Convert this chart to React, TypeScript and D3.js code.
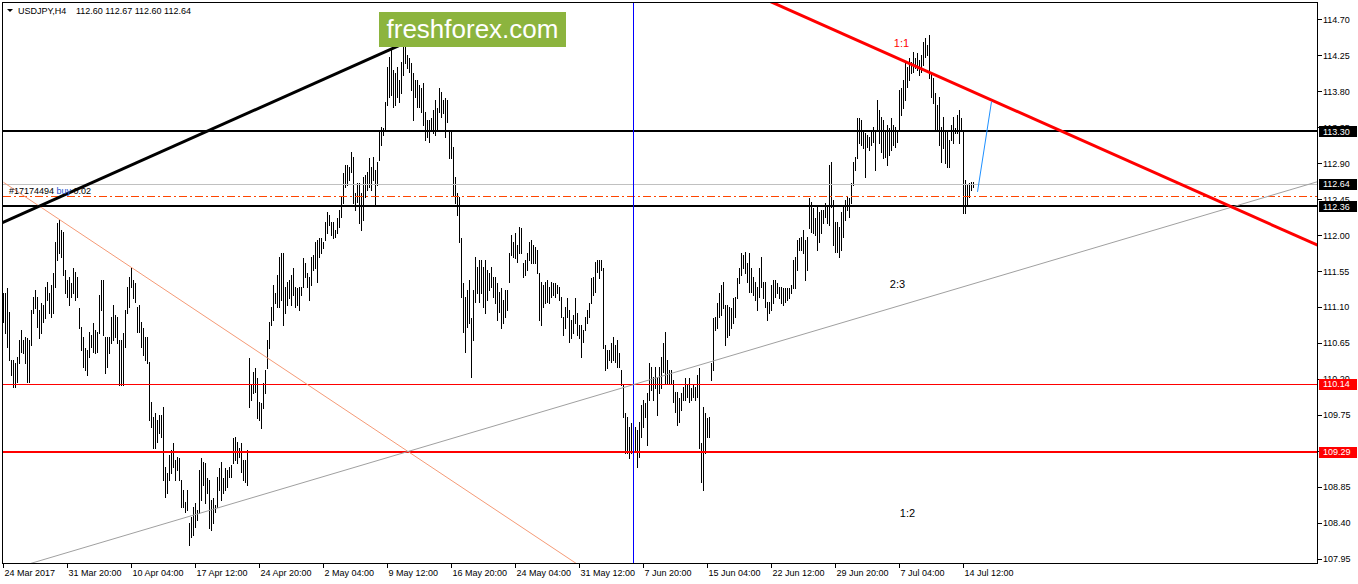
import * as React from 'react';
import * as d3 from 'd3';

const width = 1358;
const height = 584;

// USDJPY H4, bar highs and lows (one entry per bar)
const highs = [
  111.28, 111.28, 111.34, 111.04, 110.44, 110.44, 110.40, 110.47, 110.69, 110.81,
  110.69, 110.72, 110.71, 110.69, 111.06, 111.22, 111.31, 111.22, 111.06, 111.15,
  111.12, 111.35, 111.41, 111.28, 111.38, 111.53, 111.91, 112.15, 112.19, 112.06,
  112.04, 111.56, 111.44, 111.47, 111.40, 111.59, 111.54, 111.47, 111.09, 110.85,
  110.72, 110.59, 110.56, 110.79, 110.75, 110.90, 110.81, 110.79, 111.25, 111.44,
  111.44, 110.72, 110.72, 110.72, 110.97, 111.12, 111.00, 110.97, 110.69, 110.69,
  110.77, 111.06, 111.35, 111.47, 111.59, 111.44, 111.40, 111.10, 111.12, 110.91,
  110.84, 110.72, 110.72, 110.41, 109.91, 109.72, 109.77, 109.69, 109.75, 109.75,
  109.85, 109.10, 109.02, 109.25, 109.31, 109.40, 109.19, 109.22, 109.21, 108.94,
  108.81, 108.66, 108.81, 108.40, 108.47, 108.60, 108.65, 108.56, 109.06, 109.21,
  109.16, 109.15, 108.96, 108.94, 108.68, 108.71, 108.62, 108.97, 109.09, 109.16,
  108.96, 109.09, 109.06, 109.10, 109.12, 109.46, 109.47, 109.41, 109.33, 109.40,
  109.19, 109.19, 109.31, 110.46, 110.12, 110.29, 110.34, 110.21, 109.91, 109.90,
  110.15, 110.31, 110.69, 110.91, 111.10, 111.38, 111.28, 111.50, 111.73, 111.78,
  111.78, 111.35, 111.41, 111.44, 111.50, 111.59, 111.35, 111.34, 111.35, 111.35,
  111.71, 111.65, 111.53, 111.47, 111.73, 111.75, 111.91, 111.94, 111.96, 111.96,
  111.91, 112.16, 112.29, 112.25, 112.16, 112.16, 112.06, 112.21, 112.31, 112.48,
  112.78, 112.88, 112.88, 112.85, 113.04, 112.98, 112.53, 112.65, 112.65, 112.53,
  112.73, 112.75, 112.79, 112.96, 112.85, 112.98, 112.81, 112.91, 113.31, 113.35,
  113.34, 113.67, 114.10, 114.23, 114.34, 114.07, 114.03, 114.10, 113.94, 114.17,
  114.35, 114.38, 114.25, 114.22, 114.15, 114.03, 113.94, 113.94, 113.88, 113.84,
  113.90, 113.54, 113.44, 113.44, 113.46, 113.56, 113.69, 113.59, 113.84, 113.79,
  113.69, 113.72, 113.69, 113.31, 113.31, 113.10, 112.73, 112.53, 112.48, 111.96,
  111.40, 111.22, 111.31, 111.44, 110.96, 111.31, 111.73, 111.60, 111.69, 111.69,
  111.60, 111.69, 111.56, 111.53, 111.60, 111.47, 111.47, 111.40, 111.29, 111.34,
  111.19, 111.31, 111.31, 111.77, 112.00, 111.91, 112.03, 111.88, 112.10, 112.09,
  111.65, 111.69, 111.77, 111.91, 111.94, 111.88, 111.85, 111.81, 111.53, 111.41,
  111.38, 111.41, 111.44, 111.35, 111.41, 111.40, 111.40, 111.38, 111.35, 111.22,
  110.97, 111.10, 111.21, 111.06, 110.94, 111.00, 111.21, 111.02, 110.87, 110.87,
  110.81, 110.97, 111.06, 111.15, 111.46, 111.47, 111.66, 111.69, 111.69, 111.69,
  111.59, 110.62, 110.56, 110.56, 110.65, 110.72, 110.62, 110.69, 110.52, 110.31,
  110.12, 109.77, 109.72, 109.60, 109.65, 109.54, 109.60, 109.56, 109.66, 109.87,
  109.94, 109.90, 110.02, 110.40, 110.35, 110.22, 110.35, 110.22, 110.35, 110.47,
  110.65, 110.79, 110.44, 110.31, 110.31, 110.19, 110.04, 110.04, 109.96, 110.02,
  110.10, 110.21, 110.12, 110.21, 110.09, 110.12, 110.10, 110.25, 110.34, 109.40,
  109.85, 109.77, 109.71, 109.72, 110.40, 110.96, 110.97, 111.15, 111.28, 111.38,
  111.41, 111.12, 111.12, 111.10, 111.09, 111.21, 111.22, 111.46, 111.59, 111.77,
  111.75, 111.79, 111.65, 111.77, 111.59, 111.47, 111.41, 111.35, 111.59, 111.73,
  111.41, 111.41, 111.16, 111.16, 111.38, 111.44, 111.44, 111.40, 111.35, 111.35,
  111.34, 111.34, 111.34, 111.34, 111.38, 111.69, 111.73, 111.94, 111.96, 111.97,
  112.06, 111.94, 111.97, 112.46, 112.41, 112.34, 112.21, 112.35, 112.29, 112.31,
  112.31, 112.40, 112.38, 112.88, 112.91, 112.44, 112.16, 112.16, 112.10, 112.29,
  112.35, 112.44, 112.48, 112.46, 112.65, 112.91, 112.98, 113.46, 113.46, 113.44,
  113.29, 113.28, 113.25, 113.23, 113.29, 113.35, 113.29, 113.69, 113.56, 113.48,
  113.44, 113.29, 113.38, 113.34, 113.46, 113.38, 113.35, 113.31, 113.82, 113.84,
  113.94, 114.17, 114.10, 114.22, 114.17, 114.29, 114.22, 114.28, 114.19, 114.25,
  114.41, 114.47, 114.38, 114.50, 114.04, 113.97, 113.78, 113.63, 113.73, 113.35,
  113.48, 113.31, 113.31, 113.19, 113.38, 113.48, 113.34, 113.50, 113.56, 113.46,
  113.31, 112.69, 112.63, 112.65, 112.66, 112.67,
];

const lows = [
  110.91, 110.77, 110.60, 110.44, 110.25, 110.10, 110.10, 110.16, 110.40, 110.54,
  110.52, 110.40, 110.16, 110.16, 110.62, 111.02, 111.09, 110.85, 110.71, 110.77,
  110.91, 110.96, 111.19, 111.02, 110.97, 111.02, 111.35, 111.69, 111.77, 111.73,
  111.50, 111.28, 111.22, 111.12, 111.22, 111.28, 111.19, 111.22, 110.84, 110.56,
  110.35, 110.31, 110.25, 110.47, 110.60, 110.54, 110.52, 110.54, 110.77, 111.06,
  110.75, 110.27, 110.35, 110.52, 110.65, 110.69, 110.72, 110.65, 110.12, 110.12,
  110.12, 110.60, 111.02, 111.10, 111.35, 111.21, 111.16, 110.79, 110.79, 110.60,
  110.50, 110.44, 110.40, 109.69, 109.60, 109.34, 109.34, 109.41, 109.52, 109.47,
  108.94, 108.72, 108.77, 108.94, 109.02, 109.10, 108.94, 109.06, 108.94, 108.60,
  108.60, 108.53, 108.56, 108.12, 108.22, 108.25, 108.35, 108.43, 108.52, 108.68,
  108.87, 108.65, 108.77, 108.33, 108.31, 108.40, 108.53, 108.60, 108.81, 108.68,
  108.77, 108.81, 108.85, 108.97, 108.97, 109.15, 109.19, 109.15, 109.22, 109.04,
  108.94, 108.91, 108.87, 109.85, 109.94, 110.02, 110.04, 109.71, 109.69, 109.59,
  109.84, 110.02, 110.34, 110.59, 110.87, 110.94, 111.15, 111.10, 111.10, 111.19,
  110.87, 111.02, 111.12, 111.21, 111.12, 111.25, 111.10, 111.12, 111.06, 111.25,
  111.35, 111.47, 111.35, 111.19, 111.38, 111.56, 111.59, 111.41, 111.73, 111.77,
  111.84, 111.94, 112.03, 112.13, 112.00, 111.96, 111.98, 112.03, 112.10, 112.23,
  112.40, 112.60, 112.63, 112.69, 112.79, 112.40, 112.31, 112.41, 112.15, 112.06,
  112.19, 112.48, 112.56, 112.60, 112.56, 112.69, 112.38, 112.63, 112.94, 113.13,
  113.25, 113.31, 113.63, 113.73, 113.75, 113.60, 113.63, 113.73, 113.67, 113.78,
  114.00, 114.15, 114.09, 114.04, 113.82, 113.44, 113.73, 113.60, 113.60, 113.54,
  113.38, 113.19, 113.23, 113.17, 113.31, 113.28, 113.25, 113.31, 113.54, 113.48,
  113.53, 113.23, 113.42, 112.96, 112.96, 112.50, 112.40, 112.25, 111.91, 111.22,
  110.79, 110.54, 110.85, 110.90, 110.22, 110.69, 111.16, 111.28, 111.16, 111.28,
  111.10, 111.02, 111.19, 111.31, 111.35, 111.22, 111.15, 110.94, 111.04, 110.84,
  110.90, 110.97, 111.06, 111.41, 111.75, 111.73, 111.71, 111.66, 111.77, 111.77,
  111.47, 111.50, 111.56, 111.69, 111.65, 111.65, 111.65, 111.53, 110.94, 110.87,
  111.10, 111.15, 111.16, 111.15, 111.22, 111.25, 111.22, 111.28, 111.19, 110.97,
  110.75, 110.84, 110.97, 110.66, 110.71, 110.77, 110.90, 110.75, 110.71, 110.47,
  110.66, 110.81, 110.90, 110.97, 111.15, 111.25, 111.29, 111.54, 111.46, 111.56,
  110.59, 110.31, 110.34, 110.44, 110.41, 110.44, 110.41, 110.35, 110.35, 110.12,
  109.72, 109.27, 109.27, 109.21, 109.27, 109.25, 109.31, 109.10, 109.22, 109.47,
  109.60, 109.72, 109.37, 109.94, 110.06, 109.94, 110.09, 109.75, 110.02, 110.09,
  110.29, 110.15, 110.15, 110.15, 110.15, 109.91, 109.79, 109.62, 109.66, 109.81,
  109.94, 109.94, 109.97, 109.91, 109.94, 109.97, 109.94, 109.97, 109.34, 108.91,
  108.81, 109.27, 109.47, 109.47, 110.19, 110.31, 110.81, 110.84, 110.97, 111.00,
  111.09, 110.62, 110.72, 110.75, 110.84, 110.90, 110.97, 111.21, 111.40, 111.50,
  111.59, 111.53, 111.41, 111.29, 111.29, 111.25, 111.19, 111.06, 111.22, 111.35,
  111.21, 111.10, 110.94, 111.02, 111.06, 111.15, 111.22, 111.28, 111.21, 111.15,
  111.12, 111.16, 111.19, 111.21, 111.28, 111.34, 111.34, 111.56, 111.81, 111.81,
  111.77, 111.44, 111.56, 112.09, 112.04, 112.03, 112.00, 111.81, 111.91, 112.03,
  112.15, 112.23, 112.15, 112.13, 112.35, 111.88, 111.79, 111.79, 111.73, 111.81,
  111.98, 112.19, 112.31, 112.23, 112.40, 112.63, 112.81, 112.96, 113.15, 113.13,
  113.09, 112.73, 113.10, 113.06, 113.13, 113.17, 112.81, 113.31, 113.15, 113.04,
  112.96, 112.98, 112.88, 113.00, 113.06, 113.13, 113.10, 113.16, 113.31, 113.50,
  113.59, 113.69, 113.85, 113.94, 114.03, 114.04, 114.09, 114.07, 114.00, 114.04,
  114.13, 114.23, 114.25, 113.97, 113.73, 113.65, 113.31, 113.31, 113.13, 112.91,
  113.09, 112.90, 112.85, 112.85, 113.19, 113.15, 113.28, 113.28, 113.15, 113.31,
  112.28, 112.28, 112.38, 112.48, 112.56, 112.60,
];

const priceTicks = [
  107.95, 108.40, 108.85, 109.30, 109.75, 110.20, 110.65, 111.10,
  111.55, 112.00, 112.45, 112.90, 113.35, 113.80, 114.25, 114.70,
];

const timeLabels = [
  '24 Mar 2017', '31 Mar 20:00', '10 Apr 04:00', '17 Apr 12:00', '24 Apr 20:00',
  '2 May 04:00', '9 May 12:00', '16 May 20:00', '24 May 04:00', '31 May 12:00',
  '7 Jun 20:00', '15 Jun 04:00', '22 Jun 12:00', '29 Jun 20:00', '7 Jul 04:00', '14 Jul 12:00',
];
const barsPerLabel = 32;

// horizontal levels drawn on the chart
const levels = [
  {price: 113.30, color: '#000000', w: 2, box: '#000000'},
  {price: 112.64, color: '#c0c0c0', w: 1, box: '#000000'},
  {price: 112.49, color: '#ff4500', w: 1, dash: '8,3,2,3'},
  {price: 112.36, color: '#000000', w: 2, box: '#000000'},
  {price: 110.14, color: '#ff0000', w: 1, box: '#ff0000'},
  {price: 109.29, color: '#ff0000', w: 2, box: '#ff0000'},
];

// trend lines: bar index / price anchors
const trendLines = [
  {i1: 0, p1: 112.66, i2: 290, p2: 107.83, color: '#f59a76', w: 1},
  {i1: 0, p1: 107.79, i2: 660, p2: 112.69, color: '#a0a0a0', w: 1},
  {i1: -1, p1: 112.15, i2: 198, p2: 114.375, color: '#000000', w: 3},
  {i1: 380, p1: 114.96, i2: 660, p2: 111.84, color: '#ff0000', w: 3},
  {i1: 487, p1: 112.54, i2: 494, p2: 113.67, color: '#1e90ff', w: 1},
];

const markerBar = 315;

const notes = [
  {text: '1:1', i: 449, p: 114.40, color: '#ff0000'},
  {text: '2:3', i: 447, p: 111.39, color: '#000000'},
  {text: '1:2', i: 452, p: 108.52, color: '#000000'},
];

const font = "'Liberation Sans', Arial, sans-serif";

export default function App() {
  const plot = {left: 3, right: 1317, top: 3, bottom: 563};
  const x = d3.scaleLinear().domain([0, highs.length - 1]).range([3.5, 973.5]);
  const y = d3.scaleLinear().domain([107.95, 114.70]).range([558.7, 19.3]);
  const fmt = d3.format('.2f');

  return (
    <svg width={width} height={height} fontFamily={font}
      style={{position: 'absolute', left: 0, top: 0, display: 'block', background: '#fff'}}>
      <defs>
        <clipPath id="plot-clip">
          <rect x={plot.left} y={plot.top} width={plot.right - plot.left} height={plot.bottom - plot.top}/>
        </clipPath>
      </defs>
      <rect width={width} height={height} fill="#fff"/>

      <g clipPath="url(#plot-clip)">
        {/* bars */}
        <g stroke="#000" strokeWidth={1} shapeRendering="crispEdges">
          {highs.map((h, i) => (
            <line key={i} x1={x(i)} x2={x(i)} y1={Math.round(y(h))} y2={Math.round(y(lows[i])) + 1}/>
          ))}
        </g>

        {/* horizontal levels */}
        {levels.map((l, k) => {
          const ly = Math.round(y(l.price)) + (l.w === 1 ? 0.5 : 0);
          return (
            <line key={k} x1={plot.left} x2={plot.right} y1={ly} y2={ly} stroke={l.color} strokeWidth={l.w}
              strokeDasharray={l.dash} shapeRendering="crispEdges"/>
          );
        })}

        {/* vertical marker */}
        <line x1={x(markerBar)} x2={x(markerBar)} y1={plot.top} y2={plot.bottom} stroke="#0000ff"
          strokeWidth={1} shapeRendering="crispEdges"/>

        {/* trend lines */}
        {trendLines.map((t, k) => (
          <line key={k} x1={x(t.i1)} y1={y(t.p1)} x2={x(t.i2)} y2={y(t.p2)} stroke={t.color} strokeWidth={t.w}/>
        ))}

        {notes.map((n, k) => (
          <text key={k} x={x(n.i)} y={y(n.p) + 4} fontSize={11} textAnchor="middle" fill={n.color}>{n.text}</text>
        ))}

        <text x={9} y={194} fontSize={9} fill="#000">
          #17174494 <tspan fill="#1e4fd0">buy</tspan> 0.02
        </text>
      </g>

      {/* frame */}
      <rect x={plot.left - 0.5} y={plot.top - 0.5} width={plot.right - plot.left + 1} height={plot.bottom - plot.top + 1}
        fill="none" stroke="#000" strokeWidth={1} shapeRendering="crispEdges"/>

      {/* price axis */}
      {priceTicks.map(p => (
        <g key={p}>
          <line x1={plot.right} x2={plot.right + 5} y1={Math.round(y(p)) + 0.5} y2={Math.round(y(p)) + 0.5}
            stroke="#000" shapeRendering="crispEdges"/>
          <text x={plot.right + 6} y={y(p) + 3.5} fontSize={9} fill="#000">{fmt(p)}</text>
        </g>
      ))}
      {levels.filter(l => l.box).map(l => (
        <g key={l.price}>
          <rect x={plot.right + 2} y={Math.round(y(l.price)) - 5} width={38} height={11} fill={l.box}/>
          <text x={plot.right + 6} y={y(l.price) + 3.5} fontSize={9} fill="#fff">{fmt(l.price)}</text>
        </g>
      ))}

      {/* time axis */}
      {timeLabels.map((t, k) => {
        const tx = x(k * barsPerLabel);
        return (
          <g key={t}>
            <line x1={tx} x2={tx} y1={plot.bottom} y2={plot.bottom + 5} stroke="#000" shapeRendering="crispEdges"/>
            <text x={tx + 1} y={576} fontSize={9} fill="#000">{t}</text>
          </g>
        );
      })}

      {/* header */}
      <path d="M7,9 L13,9 L10,12 Z" fill="#000"/>
      <text x={18} y={14} fontSize={9} fill="#000">USDJPY,H4</text>
      <text x={76} y={14} fontSize={9} fill="#000">112.60 112.67 112.60 112.64</text>

      {/* logo */}
      <rect x={379} y={12} width={187} height={35} fill="#8cb43e"/>
      <text x={472.5} y={38} fontSize={26} textAnchor="middle" fill="#fff">freshforex.com</text>
    </svg>
  );
}
